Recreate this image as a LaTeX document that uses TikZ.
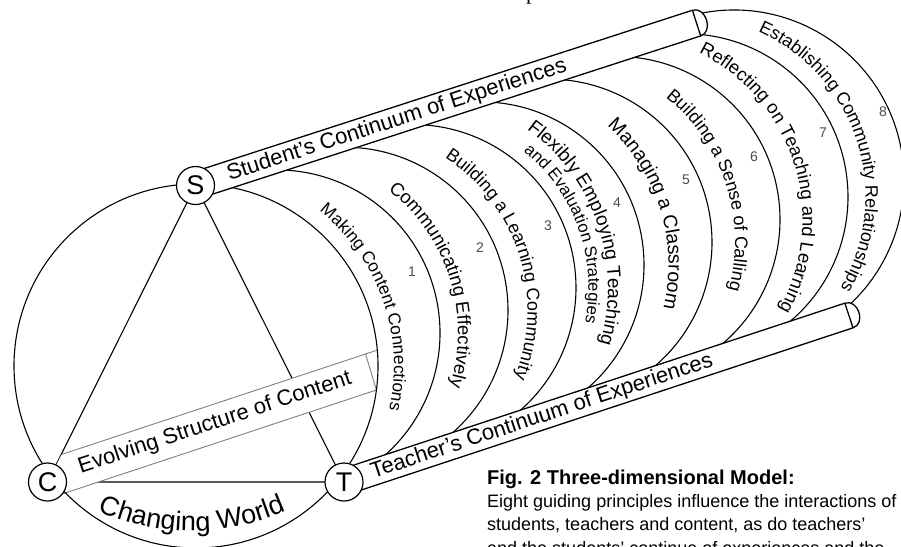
\documentclass[tikz,border=0pt]{standalone}
\usepackage{fontspec}
\setmainfont{Liberation Sans}
\newfontfamily\capserif{Liberation Serif}
\usetikzlibrary{decorations.text}
\definecolor{bandgray}{gray}{0.5}
\definecolor{numgray}{gray}{0.3}
\newcommand{\pfA}{\fontsize{17.3pt}{17.3pt}\selectfont}
\newcommand{\pfB}{\fontsize{18.6pt}{18.6pt}\selectfont}
\newcommand{\pfC}{\fontsize{18pt}{18pt}\selectfont}
\newcommand{\pfDo}{\fontsize{19pt}{19pt}\selectfont}
\newcommand{\pfDi}{\fontsize{16.8pt}{16.8pt}\selectfont}
\newcommand{\pfE}{\fontsize{19.5pt}{19.5pt}\selectfont}
\newcommand{\pfF}{\fontsize{18pt}{18pt}\selectfont}
\newcommand{\pfG}{\fontsize{18.4pt}{18.4pt}\selectfont}
\newcommand{\pfH}{\fontsize{17.9pt}{17.9pt}\selectfont}
\newcommand{\cwfont}{\fontsize{27pt}{27pt}\selectfont}
\begin{document}
\begin{tikzpicture}[x=1pt,y=-1pt,
  arcline/.style={line width=1.1pt},
  tubeshape/.style={fill=white, draw=black, line width=1.3pt},
  bandline/.style={draw=bandgray, line width=0.9pt},
  vertex/.style={circle, draw=black, fill=white, line width=1.2pt, minimum size=38pt, inner sep=0pt, font=\fontsize{27}{27}\selectfont},
  tubetext/.style={font=\fontsize{22}{22}\selectfont, inner sep=0pt},
  num/.style={font=\fontsize{14}{14}\selectfont, text=numgray, inner sep=0pt},
  captext/.style={font=\fontsize{18}{18}\selectfont, anchor=base west, inner sep=0pt},
]
\fill[white] (0,0) rectangle (901,546);
\useasboundingbox (0,0) rectangle (901,546);

% centres
\coordinate (S) at (195.5,185.5);
\coordinate (C) at (47.5,482);
\coordinate (T) at (344,482);
\coordinate (O1) at (196,366);
\coordinate (O2) at (277,333);
\coordinate (O3) at (345,310.3);
\coordinate (O4) at (413,287.6);
\coordinate (O5) at (481,264.9);
\coordinate (O6) at (549,242.2);
\coordinate (O7) at (617,219.5);
\coordinate (O8) at (685,196.8);
\coordinate (O9) at (734,180);
\coordinate (CW) at (192,301);

% triangle
\draw[arcline] (S) -- (C) -- (T) -- cycle;

% band: Evolving Structure of Content
\coordinate (B1) at (61.7,454.4);
\coordinate (B2) at (377.4,350.1);
\coordinate (B3) at (376.4,390);
\coordinate (B4) at (50,498);
\coordinate (B5) at (365.5,353.8);
\fill[white] (B1) -- (B2) -- (B3) -- (B4) -- (C) -- cycle;
\draw[bandline] (B1) -- (B2);
\draw[bandline] (B4) -- (B3);
\draw[bandline] (B5) -- (B3);

% big circle
\draw[arcline] (O1) circle[radius=182];

% principle arcs
\draw[arcline] (O2) ++(-100:163) arc[start angle=-100, end angle=66, radius=163];
\draw[arcline] (O3) ++(-100:163) arc[start angle=-100, end angle=85, radius=163];
\draw[arcline] (O4) ++(-100:163) arc[start angle=-100, end angle=85, radius=163];
\draw[arcline] (O5) ++(-100:163) arc[start angle=-100, end angle=85, radius=163];
\draw[arcline] (O6) ++(-100:163) arc[start angle=-100, end angle=85, radius=163];
\draw[arcline] (O7) ++(-100:163) arc[start angle=-100, end angle=85, radius=163];
\draw[arcline] (O8) ++(-100:163) arc[start angle=-100, end angle=85, radius=163];
\draw[arcline] (O9) ++(-101:170) arc[start angle=-101, end angle=52, radius=170];

% upper tube
\begin{scope}[shift={(S)}, rotate=17.96]
  \draw[tubeshape] (0,-13.5) -- (526.7,-13.5) .. controls (540.7,-13.5) and (540.7,13.5) .. (526.7,13.5) -- (0,13.5) -- cycle;
  \draw[tubeshape] (526.7,-13.5) -- (526.7,13.5);
\end{scope}
% lower tube
\begin{scope}[shift={(T)}, rotate=18.25]
  \draw[tubeshape] (0,-13) -- (531.7,-13) .. controls (545.7,-13) and (545.7,13) .. (531.7,13) -- (0,13) -- cycle;
  \draw[tubeshape] (531.7,-13) -- (531.7,13);
\end{scope}

% tube texts
\node[tubetext, rotate=17.96] (stud) at (397,120.5) {Student’s Continuum of Experiences};
\node[tubetext, rotate=18.25] (teach) at (542,416.8) {Teacher’s Continuum of Experiences};
\node[tubetext, rotate=18.3] (evol) at (215,423) {Evolving Structure of Content};

% principle texts
\path[decorate, decoration={text along path, text align=center, text={|\pfA|Making Content Connections}}]
  (O1) ++(-89.35:198) arc[start angle=-89.35, end angle=50.65, radius=198];
\path[decorate, decoration={text along path, text align=center, text={|\pfB|Communicating Effectively}}]
  (O2) ++(-87.45:181) arc[start angle=-87.45, end angle=52.55, radius=181];
\path[decorate, decoration={text along path, text align=center, text={|\pfC|Building a Learning Community}}]
  (O3) ++(-87.6:182.5) arc[start angle=-87.6, end angle=52.4, radius=182.5];
\path[decorate, decoration={text along path, text align=center, text={|\pfDo|Flexibly Employing Teaching}}]
  (O4) ++(-88.8:195) arc[start angle=-88.8, end angle=51.2, radius=195];
\path[decorate, decoration={text along path, text align=center, text={|\pfDi|and Evaluation Strategies}}]
  (O4) ++(-89.75:175.5) arc[start angle=-89.75, end angle=50.25, radius=175.5];
\path[decorate, decoration={text along path, text align=center, text={|\pfE|Managing a Classroom}}]
  (O5) ++(-87.15:187.5) arc[start angle=-87.15, end angle=52.85, radius=187.5];
\path[decorate, decoration={text along path, text align=center, text={|\pfF|Building a Sense of Calling}}]
  (O6) ++(-88.1:186) arc[start angle=-88.1, end angle=51.9, radius=186];
\path[decorate, decoration={text along path, text align=center, text={|\pfG|Reflecting on Teaching and Learning}}]
  (O7) ++(-97.4:185.5) arc[start angle=-97.4, end angle=62.6, radius=185.5];
\path[decorate, decoration={text along path, text align=center, text={|\pfH|Establishing Community Relationships}}]
  (O8) ++(-97.8:180.5) arc[start angle=-97.8, end angle=62.2, radius=180.5];

% numbers
\node[num] (n1) at (412,272) {1};
\node[num] (n2) at (480,248) {2};
\node[num] (n3) at (548,226) {3};
\node[num] (n4) at (617,203) {4};
\node[num] (n5) at (686,180) {5};
\node[num] (n6) at (754,157) {6};
\node[num] (n7) at (823,133) {7};
\node[num] (n8) at (883,112) {8};

% Changing World
\path[decorate, decoration={text along path, text align=center, text={|\cwfont|Changing World}}]
  (CW) ++(150:230) arc[start angle=150, end angle=30, radius=230];

% vertices
\node[vertex] (nS) at (S) {S};
\node[vertex] (nC) at (C) {C};
\node[vertex] (nT) at (T) {T};

% caption
\node[anchor=base west, inner sep=0pt, font=\bfseries\fontsize{20}{20}\selectfont] (cap0) at (487,484) {Fig. 2 Three-dimensional Model:};
\node[captext] (cap1) at (487,507) {Eight guiding principles influence the interactions of};
\node[captext] (cap2) at (487,530.5) {students, teachers and content, as do teachers’};
\node[captext] (cap3) at (487,554) {and the students’ continua of experiences and the};

% fragment of text above
\node[anchor=base west, inner sep=0pt, font=\capserif\fontsize{22}{22}\selectfont] (ptop) at (526,-1) {p};
\end{tikzpicture}
\end{document}
